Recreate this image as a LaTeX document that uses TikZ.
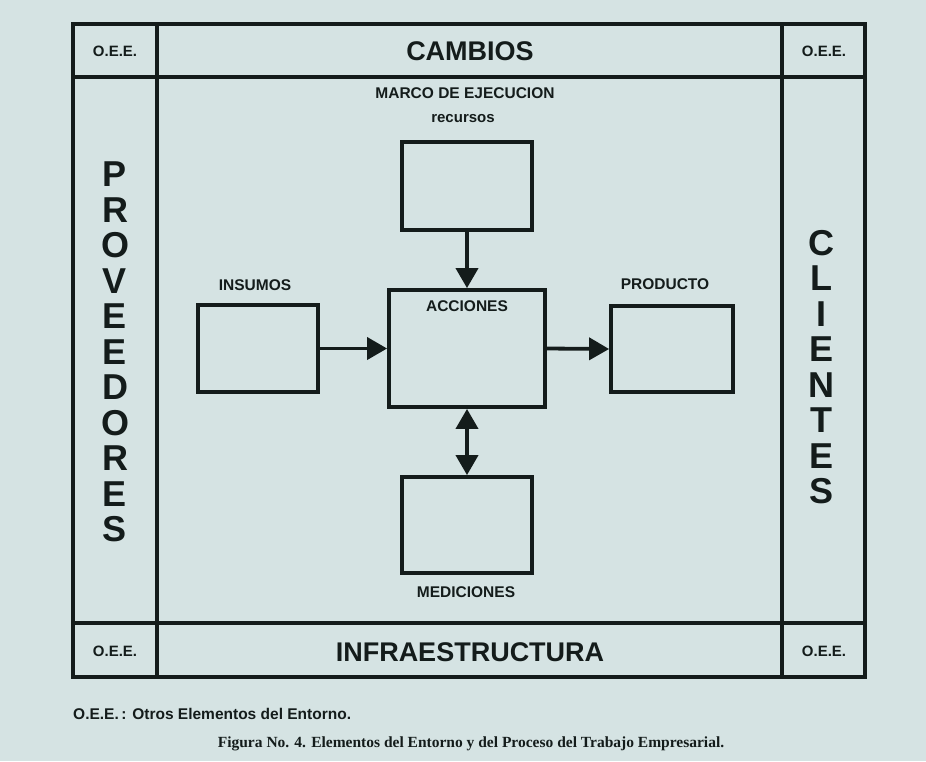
\documentclass[tikz,border=0pt]{standalone}
\usepackage{fontspec}
\setmainfont{Liberation Sans}
\newfontfamily\captionserif{Liberation Serif}
\usetikzlibrary{arrows.meta}
\definecolor{paper}{RGB}{213,227,227}
\definecolor{ink}{RGB}{20,28,27}
\begin{document}
\begin{tikzpicture}[x=1pt,y=-1pt,
  frameline/.style={draw=ink, line width=3.8pt},
  blockbox/.style={draw=ink, line width=3.8pt, rectangle, inner sep=0pt},
  flow/.style={draw=ink, line width=3.8pt, -{Triangle[length=20pt,width=22pt]}},
  flowboth/.style={draw=ink, line width=3.8pt, {Triangle[length=20pt,width=22pt]}-{Triangle[length=20pt,width=22pt]}},
  lbl/.style={text=ink, font=\bfseries\fontsize{15.5}{18}\selectfont, inner sep=0pt},
  corner/.style={text=ink, font=\bfseries\fontsize{15}{18}\selectfont, inner sep=0pt},
  band/.style={text=ink, font=\bfseries\fontsize{27}{30}\selectfont, inner sep=0pt},
  column/.style={text=ink, align=center, font=\bfseries\fontsize{36}{35.5}\selectfont, inner sep=0pt},
]
% paper
\fill[paper] (0,0) rectangle (926,761);
\useasboundingbox (0,0) rectangle (926,761);

% outer frame with corner cells
\draw[frameline] (73,24) rectangle (865,677);
\draw[frameline] (157,24) -- (157,677);
\draw[frameline] (782,24) -- (782,677);
\draw[frameline] (73,77) -- (865,77);
\draw[frameline] (73,623) -- (865,623);

% corner labels
\node[corner] (oee1) at (115,51) {O.E.E.};
\node[corner] (oee2) at (824,51) {O.E.E.};
\node[corner] (oee3) at (115,651) {O.E.E.};
\node[corner] (oee4) at (824,651) {O.E.E.};

% bands
\node[band] (cambios) at (470,51) {CAMBIOS};
\node[band] (infra) at (470,652) {INFRAESTRUCTURA};
\node[column] (prov) at (115,352) {P\\R\\O\\V\\E\\E\\D\\O\\R\\E\\S};
\node[column] (clien) at (821,367) {C\\L\\I\\E\\N\\T\\E\\S};

% process blocks
\node[blockbox, minimum width=130pt, minimum height=88pt] (recursos) at (467,186) {};
\node[blockbox, minimum width=156pt, minimum height=117pt] (acciones) at (467,348.5) {};
\node[blockbox, minimum width=120pt, minimum height=87pt] (insumos) at (258,348.5) {};
\node[blockbox, minimum width=122pt, minimum height=86pt] (producto) at (672,349) {};
\node[blockbox, minimum width=130pt, minimum height=96pt] (mediciones) at (467,525) {};

% block labels
\node[lbl] (marco) at (465,93) {MARCO DE EJECUCION};
\node[lbl, font=\bfseries\fontsize{15}{18}\selectfont] (recl) at (463,119) {recursos};
\node[lbl] (insl) at (255,285) {INSUMOS};
\node[lbl] (accl) at (467,306) {ACCIONES};
\node[lbl] (prodl) at (665,284) {PRODUCTO};
\node[lbl] (medl) at (466,592) {MEDICIONES};

% connectors
\draw[flow] (recursos.south) -- (acciones.north);
\draw[flow] (insumos.east) -- (acciones.west);
\draw[flow] (acciones.east) -- (producto.west);
\draw[flowboth] (acciones.south) -- (mediciones.north);

% notes
\node[text=ink, anchor=west, inner sep=0pt, font=\bfseries\fontsize{15.5}{18}\selectfont] (note) at (73,714) {O.E.E.\,: Otros Elementos del Entorno.};
\node[text=ink, inner sep=0pt, font=\captionserif\bfseries\fontsize{15.5}{18}\selectfont] (caption) at (471,744) {Figura No. 4. Elementos del Entorno y del Proceso del Trabajo Empresarial.};
\end{tikzpicture}
\end{document}
